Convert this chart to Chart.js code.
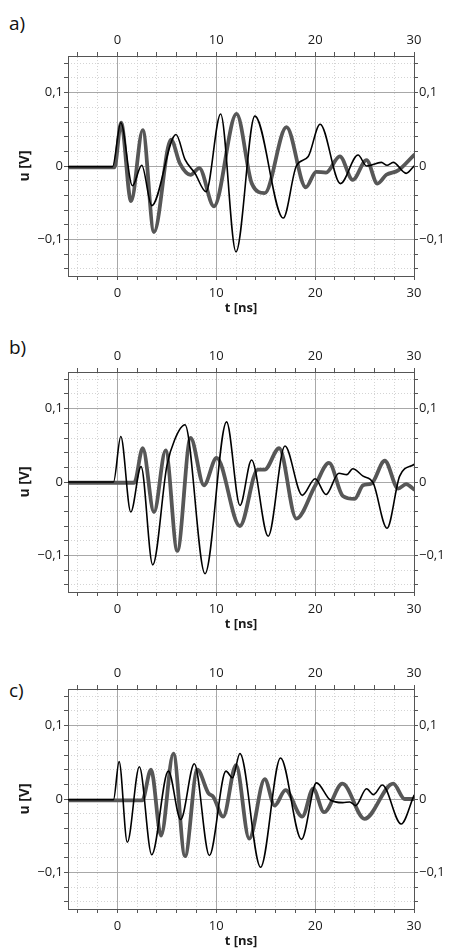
<!DOCTYPE html>
<html>
<head>
<meta charset="utf-8">
<script src="https://cdn.jsdelivr.net/npm/chart.js@4/dist/chart.umd.min.js"></script>
<style>
  body { margin: 0; background: #fff; }
  #wrap { position: relative; width: 449px; height: 950px; }
  canvas { position: absolute; left: 0; }
  .tag { position: absolute; left: 9px; font: 19px "Open Sans", sans-serif; color: #111; }
</style>
</head>
<body>
<div id="wrap">
  <div class="tag" style="top: 10px">a)</div>
  <canvas id="ca" width="449" height="316" style="top: 0px"></canvas>
  <div class="tag" style="top: 334px">b)</div>
  <canvas id="cb" width="449" height="316" style="top: 316px"></canvas>
  <div class="tag" style="top: 677px">c)</div>
  <canvas id="cc" width="449" height="316" style="top: 633px"></canvas>
</div>
<script>
// tick positions
const tTicks = [-4, -2, 0, 2, 4, 6, 8, 10, 12, 14, 16, 18, 20, 22, 24, 26, 28, 30];
const tLabels = [0, 10, 20, 30];
const uTicks = [-0.14, -0.12, -0.1, -0.08, -0.06, -0.04, -0.02, 0, 0.02, 0.04, 0.06, 0.08, 0.1, 0.12, 0.14];
const uLabels = [-0.1, 0, 0.1];

// a) thin black trace
const aThinT = [-5, -0.5, 0.34, 1.52, 2.46, 3.47, 5.93, 6.83, 7.85, 8.96, 10.44, 11.99, 13.9, 16.77, 18.1, 19.3, 20.5, 22.56, 24.34, 25.2, 26.7, 27.27, 27.9, 29.2, 30];
const aThinU = [-0.001, -0.001, 0.059, -0.027, 0.001, -0.054, 0.043, 0.009, -0.010, -0.035, 0.071, -0.117, 0.068, -0.071, 0.0, 0.013, 0.057, -0.024, 0.015, 0.0, 0.005, 0.001, 0.005, -0.010, 0.0];
// a) thick gray trace
const aThickT = [-5, -0.3, 0.37, 1.38, 2.56, 3.7, 5.42, 6.3, 7.4, 8.28, 9.76, 12.05, 13.6, 14.9, 17.1, 19.06, 20.1, 21.1, 22.5, 23.8, 25.2, 26.3, 27.2, 28.4, 30];
const aThickU = [-0.002, -0.002, 0.059, -0.048, 0.049, -0.090, 0.036, 0.004, -0.012, -0.003, -0.055, 0.071, -0.024, -0.037, 0.053, -0.029, -0.008, -0.009, 0.013, -0.019, 0.008, -0.024, -0.012, -0.006, 0.015];

// b) thin black trace
const bThinT = [-5, -0.4, 0.34, 1.35, 2.39, 3.57, 5.0, 5.8, 6.83, 8.86, 11.04, 12.4, 13.57, 15.25, 16.94, 18.7, 20.0, 21.1, 22.4, 23.2, 23.8, 24.85, 25.86, 27.27, 28.55, 30];
const bThinU = [0.0, 0.0, 0.062, -0.041, 0.021, -0.113, 0.022, 0.058, 0.078, -0.125, 0.082, -0.032, 0.030, -0.074, 0.049, -0.018, 0.0045, -0.017, 0.012, 0.010, 0.018, 0.008, -0.001, -0.063, 0.008, 0.024];
// b) thick gray trace
const bThickT = [-5, 1.7, 2.56, 3.7, 4.88, 6.06, 7.4, 8.75, 10.03, 12.39, 14.2, 14.9, 16.36, 18.1, 20.0, 21.4, 22.8, 24.0, 24.85, 25.7, 27.04, 28.4, 29.2, 30];
const bThickU = [-0.001, -0.001, 0.046, -0.041, 0.043, -0.094, 0.060, -0.0045, 0.033, -0.060, 0.017, 0.017, 0.046, -0.050, -0.005, 0.026, -0.019, -0.023, -0.0045, -0.002, 0.029, -0.009, -0.003, -0.010];

// c) thin black trace
const cThinT = [-5, -0.4, 0.17, 1.0, 2.22, 3.47, 5.15, 6.4, 7.78, 9.3, 10.98, 11.65, 12.39, 14.48, 16.5, 18.62, 20.13, 21.5, 22.8, 23.5, 24.1, 25.2, 25.9, 26.8, 28.7, 30];
const cThinU = [-0.001, -0.001, 0.051, -0.059, 0.044, -0.076, 0.038, -0.028, 0.048, -0.077, 0.038, 0.029, 0.062, -0.093, 0.056, -0.055, 0.022, -0.001, -0.005, -0.004, -0.009, 0.014, 0.006, 0.019, -0.034, 0.005];
// c) thick gray trace
const cThickT = [-5, 2.5, 3.4, 4.41, 5.66, 6.84, 8.08, 9.2, 9.7, 10.7, 12.0, 13.33, 14.9, 15.9, 17.0, 18.7, 19.8, 20.9, 22.76, 25.0, 27.9, 29.06, 30];
const cThickU = [-0.002, -0.002, 0.040, -0.050, 0.062, -0.078, 0.040, 0.008, 0.003, -0.024, 0.046, -0.054, 0.027, -0.009, 0.012, -0.024, 0.014, -0.018, 0.021, -0.027, 0.021, 0.0, 0.0];

const tickFont = { family: 'Open Sans', size: 13 };
const titleFont = { family: 'Open Sans', size: 13, weight: 'bold' };
const uTitleFont = { family: 'Open Sans', size: 14, weight: 'bold' };

const near = (v, list) => list.some(m => Math.abs(v - m) < 1e-6);
const fmtU = v => {
  if (Math.abs(v) < 1e-6) return '0';
  return (v < 0 ? '\u2212' : '') + Math.abs(v).toFixed(1).replace('.', ',');
};
const pts = (ts, us) => ts.map((t, i) => ({ x: t, y: us[i] }));

function xAxis(pos, major) {
  return {
    type: 'linear', position: pos, min: -5, max: 30,
    afterBuildTicks: s => { s.ticks = tTicks.map(v => ({ value: v })); },
    afterFit: s => { s.height = pos === 'top' ? 56 : 40; },
    ticks: {
      autoSkip: false, maxRotation: 0, padding: pos === 'top' ? 4 : 5,
      color: '#1a1a1a', font: tickFont,
      callback: v => near(v, tLabels) ? String(v) : ''
    },
    grid: {
      color: c => major ? (near(c.tick.value, tLabels) ? '#a8a8a8' : 'rgba(0,0,0,0)')
                        : (near(c.tick.value, tLabels) ? 'rgba(0,0,0,0)' : '#d4d4d4'),
      lineWidth: 1, tickColor: '#555', tickLength: 4
    },
    border: { color: '#555', width: 1, dash: major ? [] : [1, 2] },
    title: pos === 'bottom'
      ? { display: true, text: 't [ns]', font: titleFont, color: '#1a1a1a', padding: { top: 0, bottom: 0 } }
      : { display: false }
  };
}

function yAxis(pos, major) {
  return {
    type: 'linear', position: pos, min: -0.15, max: 0.15,
    afterBuildTicks: s => { s.ticks = uTicks.map(v => ({ value: v })); },
    afterFit: s => { s.width = pos === 'left' ? 68 : 35; },
    ticks: {
      autoSkip: false, padding: 1, color: '#1a1a1a', font: tickFont,
      callback: v => near(v, uLabels) ? fmtU(v) : ''
    },
    grid: {
      color: c => major ? (near(c.tick.value, uLabels) ? '#a8a8a8' : 'rgba(0,0,0,0)')
                        : (near(c.tick.value, uLabels) ? 'rgba(0,0,0,0)' : '#d4d4d4'),
      lineWidth: 1, tickColor: '#555', tickLength: 4
    },
    border: { color: '#555', width: 1, dash: major ? [] : [1, 2] },
    title: pos === 'left'
      ? { display: true, text: 'u [V]', font: uTitleFont, color: '#1a1a1a', padding: { top: 16.5, bottom: 0 } }
      : { display: false }
  };
}

function drawPanel(id, thinT, thinU, thickT, thickU) {
  new Chart(document.getElementById(id), {
    type: 'line',
    data: {
      datasets: [
        { data: pts(thinT, thinU), borderColor: '#000', borderWidth: 1.6, xAxisID: 'x', yAxisID: 'y' },
        { data: pts(thickT, thickU), borderColor: '#575757', borderWidth: 3.8, xAxisID: 'x', yAxisID: 'y' }
      ]
    },
    options: {
      responsive: false, animation: false,
      layout: { padding: 0 },
      elements: { point: { radius: 0 }, line: { cubicInterpolationMode: 'monotone', borderCapStyle: 'round', borderJoinStyle: 'round' } },
      plugins: { legend: { display: false }, tooltip: { enabled: false } },
      scales: {
        x: xAxis('bottom', true),
        x2: xAxis('top', false),
        y: yAxis('left', true),
        y2: yAxis('right', false)
      }
    }
  });
}

drawPanel('ca', aThinT, aThinU, aThickT, aThickU);
drawPanel('cb', bThinT, bThinU, bThickT, bThickU);
drawPanel('cc', cThinT, cThinU, cThickT, cThickU);
</script>
</body>
</html>
